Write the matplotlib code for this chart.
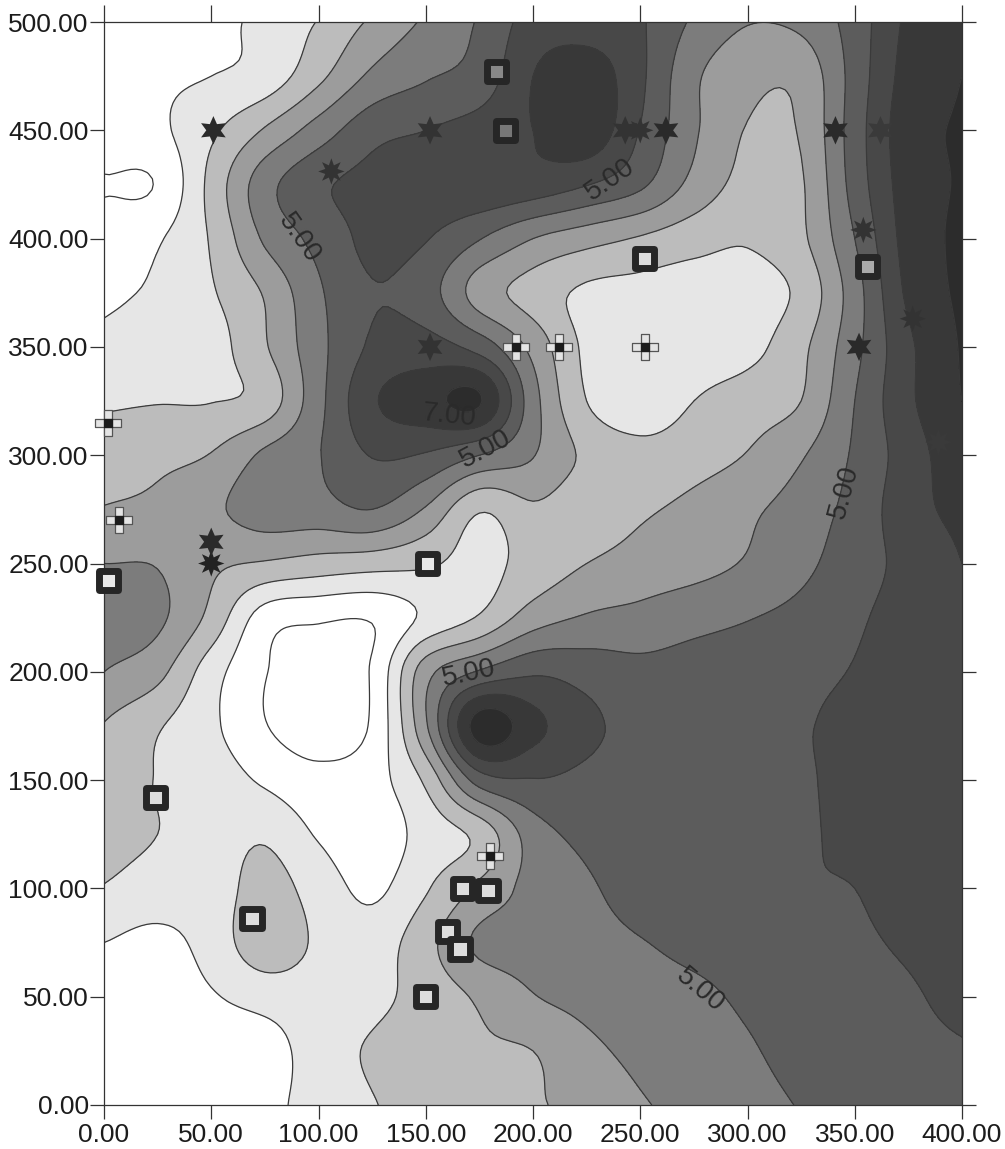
import numpy as np
import matplotlib
matplotlib.use("Agg")
import matplotlib.pyplot as plt

plt.rcParams['font.family'] = ['Liberation Sans', 'DejaVu Sans']

x_nodes = list(range(0, 401, 25))
y_nodes = list(range(500, -1, -25))
z_rows = [
 [.3,.4,.7,1.27,2.05,3.16,4.15,5.1,6.4,6.4,6.1,4.85,4.05,4.25,5.45,7.2,7.8],
 [.4,.8,1.0,1.4,2.75,4.2,4.9,5.4,7.0,7.6,6.2,4.2,3.3,3.3,5.4,7.4,8.0],
 [.5,.8,1.8,3.1,4.45,5.65,6.0,6.4,7.0,7.7,5.95,4.15,2.95,3.1,5.5,7.6,8.1],
 [-.05,.08,2.3,4.6,5.8,6.3,6.6,6.8,6.6,6.05,5.2,3.7,2.7,2.9,5.4,7.5,8.1],
 [.45,.9,2.1,4.15,5.3,6.25,6.05,5.05,4.0,3.4,2.9,2.4,2.1,2.8,5.0,7.4,8.2],
 [.85,1.15,1.9,3.1,4.85,5.95,5.45,3.55,2.6,1.8,1.65,1.5,1.6,2.25,4.55,7.2,8.2],
 [1.2,1.3,1.6,2.9,4.7,6.15,6.4,5.6,3.7,1.8,1.5,1.5,1.7,2.75,4.7,6.8,8.1],
 [1.85,1.95,1.97,2.4,4.7,6.85,7.6,8.1,4.4,2.0,1.4,2.0,2.5,3.0,5.0,6.8,8.0],
 [2.55,2.75,3.05,4.2,4.95,6.05,5.9,5.0,4.05,2.8,2.35,2.6,3.05,3.9,5.15,6.5,7.7],
 [3.05,3.25,3.8,4.5,4.6,5.0,3.9,2.1,2.85,2.45,2.85,3.25,3.8,4.45,5.35,6.6,7.3],
 [4.0,3.95,3.2,2.9,2.6,2.4,2.15,1.7,2.4,3.0,3.4,3.65,4.1,4.75,5.55,6.3,7.0],
 [4.6,4.2,2.7,.5,.15,.1,1.2,2.1,3.5,4.1,4.3,4.65,4.95,5.3,5.85,6.4,6.9],
 [4.0,3.3,1.45,.05,-.4,.1,3.6,5.1,5.85,5.6,5.3,5.45,5.6,5.8,6.05,6.5,6.8],
 [2.95,2.1,1.2,.05,-.5,.15,3.85,8.5,7.3,6.25,5.7,5.75,5.85,5.95,6.2,6.55,6.8],
 [2.65,1.95,1.55,.85,.3,.6,2.2,5.45,5.95,5.75,5.5,5.55,5.65,5.9,6.25,6.6,6.9],
 [2.3,2.0,1.6,1.85,.9,.4,1.4,2.3,4.5,5.25,5.5,5.6,5.7,5.85,6.3,6.75,6.95],
 [1.95,1.6,1.5,2.4,1.55,.8,1.9,3.2,4.35,4.85,5.45,5.6,5.75,5.95,6.0,6.6,6.9],
 [1.0,.7,1.4,2.6,1.85,1.5,2.65,4.2,4.4,4.6,4.95,5.25,5.45,5.65,5.8,6.2,6.75],
 [.3,.3,.9,1.4,1.6,1.75,2.4,3.15,3.95,4.3,4.6,4.8,5.15,5.4,5.6,5.85,6.4],
 [.2,.2,.25,.5,1.55,2.1,2.5,2.85,3.0,3.75,4.25,4.55,4.9,5.3,5.5,5.7,5.9],
 [.1,.1,.15,.7,1.4,1.95,2.3,2.6,2.9,3.3,3.9,4.3,4.65,5.05,5.35,5.6,5.85],
]
levels = [-9, 0, 1, 2, 3, 4, 5, 6, 7, 8, 12]
band_colors = ['#ffffff', '#ffffff', '#e6e6e6', '#bcbcbc', '#9c9c9c', '#7c7c7c',
               '#5c5c5c', '#484848', '#383838', '#2c2c2c']
line_levels = [0, 1, 2, 3, 4, 5, 6, 7, 8]

square_x = [183, 187, 252, 356, 151, 2, 24, 69, 167, 179, 160, 166, 150]
square_y = [477, 450, 391, 387, 250, 242, 142, 86, 100, 99, 80, 72, 50]
square_fill = ['#888888', '#777777', '#dddddd', '#aaaaaa', '#e8e8e8', '#e8e8e8', '#dddddd',
               '#dddddd', '#dddddd', '#dddddd', '#dddddd', '#dddddd', '#dddddd']
star_x = [51, 50, 152, 152, 243, 262, 341, 362, 352]
star_y = [450, 260, 450, 350, 450, 450, 450, 450, 350]
star_c = ['#2a2a2a', '#2a2a2a', '#333333', '#333333', '#333333', '#2a2a2a', '#2a2a2a', '#3a3a3a', '#2a2a2a']
spike_x = [106, 50, 250, 354, 377, 389]
spike_y = [431, 250, 450, 404, 363, 306]
spike_c = ['#333333', '#222222', '#333333', '#333333', '#333333', '#3a3a3a']
plus_x = [2, 7, 192, 212, 252, 180]
plus_y = [315, 270, 350, 350, 350, 115]
label_x = [91, 178, 236, 345, 170, 278, 161]
label_y = [400, 303, 427, 283, 199, 53, 318]
label_text = ['5.00', '5.00', '5.00', '5.00', '5.00', '5.00', '7.00']
label_rot = [-55, 28, 35, 75, 12, -40, -6]
tick_x = [0, 50, 100, 150, 200, 250, 300, 350, 400]
tick_y = [0, 50, 100, 150, 200, 250, 300, 350, 400, 450, 500]


def catmull(a, factor, axis):
    a = np.moveaxis(np.asarray(a, float), axis, 0)
    n = a.shape[0]
    pad = np.concatenate([[2 * a[0] - a[1]], a, [2 * a[-1] - a[-2]]])
    t = np.linspace(0, n - 1, (n - 1) * factor + 1)
    i = np.minimum(t.astype(int), n - 2)
    u = (t - i).reshape((-1,) + (1,) * (a.ndim - 1))
    p0, p1, p2, p3 = pad[i], pad[i + 1], pad[i + 2], pad[i + 3]
    out = 0.5 * (2 * p1 + (p2 - p0) * u + (2 * p0 - 5 * p1 + 4 * p2 - p3) * u ** 2
                 + (3 * p1 - p0 - 3 * p2 + p3) * u ** 3)
    return np.moveaxis(out, 0, axis)


F = 10
Z = catmull(catmull(z_rows, F, 0), F, 1)
X = np.linspace(x_nodes[0], x_nodes[-1], Z.shape[1])
Y = np.linspace(y_nodes[0], y_nodes[-1], Z.shape[0])

fig = plt.figure(figsize=(10.05, 11.49), dpi=100)
ax = fig.add_axes([104 / 1005, 1 - 1105 / 1149, (962 - 104) / 1005, (1105 - 22) / 1149])
ax.contourf(X, Y, Z, levels=levels, colors=band_colors)
ax.contour(X, Y, Z, levels=line_levels, colors='#3a3a3a', linewidths=0.9)

for tx, ty, s, r in zip(label_x, label_y, label_text, label_rot):
    ax.text(tx, ty, s, rotation=r, rotation_mode='anchor', ha='center', va='center',
            fontsize=20, color='#2a2a2a', zorder=4)

ax.scatter(plus_x, plus_y, marker='P', s=330, facecolors='#e4e4e4', edgecolors='#555555',
           linewidths=0.9, zorder=5, clip_on=False)
ax.scatter(plus_x, plus_y, marker='s', s=32, color='#1c1c1c', zorder=6, clip_on=False)
ax.scatter(spike_x, spike_y, marker=(8, 1, 0), s=360, c=spike_c, linewidths=0, zorder=5, clip_on=False)
ax.scatter(star_x, star_y, marker=(6, 1, 0), s=420, c=star_c, linewidths=0, zorder=5, clip_on=False)
ax.scatter(square_x, square_y, marker='s', s=190, c=square_fill, edgecolors='#262626',
           linewidths=5.0, zorder=7, clip_on=False)

ax.set_xlim(0, 400)
ax.set_ylim(0, 500)
ax.set_xticks(tick_x)
ax.set_yticks(tick_y)
ax.set_xticklabels([f'{v:.2f}' for v in tick_x])
ax.set_yticklabels([f'{v:.2f}' for v in tick_y])
ax.tick_params(axis='both', direction='out', length=10, width=0.9, color='#333333',
               labelsize=19, labelcolor='#1c1c1c', top=True, right=True, pad=1)
ax.tick_params(axis='x', which='major', pad=3)
for t in ax.xaxis.get_major_ticks():
    t.tick2line.set_markersize(12)
for s in ax.spines.values():
    s.set_linewidth(0.9)
    s.set_color('#333333')
fig.savefig('out.png', dpi=100)
